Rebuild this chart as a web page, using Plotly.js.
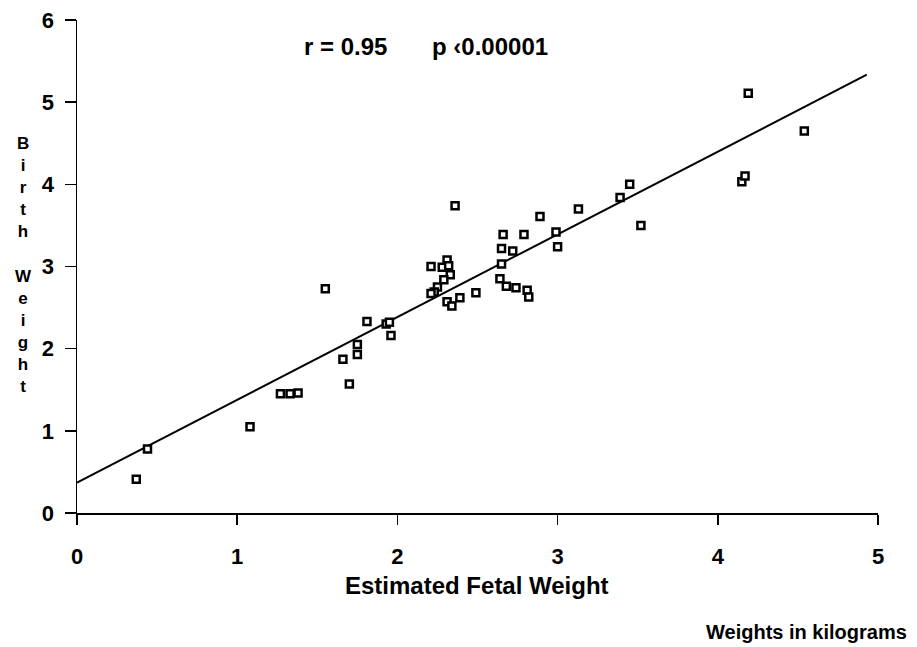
<!DOCTYPE html>
<html>
<head>
<meta charset="utf-8">
<script src="https://cdn.plot.ly/plotly-3.0.1.min.js"></script>
<style>html,body{margin:0;padding:0;background:#fff;}#chart{width:917px;height:647px;}</style>
</head>
<body>
<div id="chart"></div>
<script>
// Estimated fetal weight (kg) vs birth weight (kg)
var estimatedWeight = [0.37,0.44,1.08,1.27,1.33,1.38,1.55,1.70,1.66,1.75,1.75,1.81,1.93,1.95,1.96,
  2.36,2.21,2.28,2.31,2.32,2.33,2.29,2.25,2.23,2.21,2.31,2.34,2.39,2.49,
  2.66,2.79,2.65,2.72,2.65,2.64,2.68,2.74,2.81,2.82,2.89,2.99,3.00,3.13,
  3.39,3.45,3.52,4.15,4.17,4.19,4.54];
var birthWeight = [0.41,0.78,1.05,1.45,1.45,1.46,2.73,1.57,1.87,1.93,2.05,2.33,2.30,2.32,2.16,
  3.74,3.00,2.99,3.08,3.01,2.90,2.84,2.75,2.69,2.67,2.57,2.52,2.62,2.68,
  3.39,3.39,3.22,3.19,3.03,2.85,2.76,2.74,2.71,2.63,3.61,3.42,3.24,3.70,
  3.84,4.00,3.50,4.03,4.10,5.11,4.65];
// Regression line
var fitIntercept = 0.37;
var fitSlope = 1.007;
var fitRange = [0, 4.93];
var xTicks = [0,1,2,3,4,5];
var yTicks = [0,1,2,3,4,5,6];
var yLabelLetters = ["B","i","r","t","h","","W","e","i","g","h","t"];
var statR = "r = 0.95";
var statP = "p \u20390.00001";
var xTitle = "Estimated Fetal Weight";
var unitNote = "Weights in kilograms";

var fitY = fitRange.map(function(x){ return fitIntercept + fitSlope * x; });
var FONT = "Liberation Sans, Arial, sans-serif";

var traces = [
  {x: fitRange, y: fitY, type: "scatter", mode: "lines",
   line: {color: "#000", width: 2}, hoverinfo: "skip", showlegend: false},
  {x: estimatedWeight, y: birthWeight, type: "scatter", mode: "markers",
   marker: {symbol: "square", size: 7, color: "#fff", line: {color: "#000", width: 2.5}},
   cliponaxis: false, showlegend: false}
];

var W = 917, H = 647, mL = 77, mR = 39, mT = 20, mB = 134;
var pw = W - mL - mR, ph = H - mT - mB;
var annotations = [];
function addText(txt, px, py, size, anchor){
  annotations.push({xref: "paper", yref: "paper", x: (px - mL)/pw, y: (H - mB - py)/ph,
    text: txt, showarrow: false, xanchor: anchor || "center", yanchor: "middle",
    font: {family: FONT, size: size, color: "#000", weight: "bold"}});
}
// vertical stacked y-axis title
annotations.push({xref: "paper", yref: "paper", x: (23 - mL)/pw, y: (H - mB - 265)/ph,
  text: yLabelLetters.join("<br>"), showarrow: false, xanchor: "center", yanchor: "middle",
  align: "center", font: {family: FONT, size: 17, color: "#000", weight: "bold"}});
addText(statR, 345, 46, 24);
addText(statP, 490, 46, 24);
addText(xTitle, 477, 585, 24);
addText(unitNote, 806, 632, 20);

var layout = {
  width: W, height: H,
  margin: {l: mL, r: mR, t: mT, b: mB},
  paper_bgcolor: "#fff", plot_bgcolor: "#fff",
  showlegend: false,
  font: {family: FONT, color: "#000"},
  xaxis: {range: [0,5], tickvals: xTicks, ticktext: xTicks.map(String),
    showgrid: false, zeroline: false, showline: true, linecolor: "#000", linewidth: 1.5,
    ticks: "outside", ticklen: 10, tickwidth: 1.5, tickcolor: "#000",
    ticklabelstandoff: 13,
    tickfont: {family: FONT, size: 22, color: "#000", weight: "bold"}},
  yaxis: {range: [0,6], tickvals: yTicks, ticktext: yTicks.map(String),
    showgrid: false, zeroline: false, showline: true, linecolor: "#000", linewidth: 1.5,
    ticks: "outside", ticklen: 11, tickwidth: 1.5, tickcolor: "#000",
    ticklabelstandoff: 6,
    tickfont: {family: FONT, size: 22, color: "#000", weight: "bold"}},
  annotations: annotations
};
Plotly.newPlot("chart", traces, layout, {staticPlot: true, displayModeBar: false});
</script>
</body>
</html>
